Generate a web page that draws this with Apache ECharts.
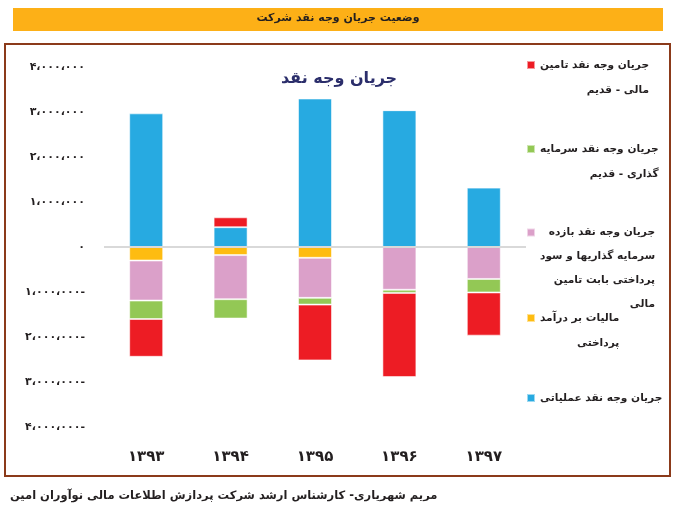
<!DOCTYPE html>
<html>
<head>
<meta charset="utf-8">
<title>جریان وجه نقد</title>
<script src="https://cdn.jsdelivr.net/npm/echarts@6/dist/echarts.min.js"></script>
<style>
  html, body { margin: 0; padding: 0; background: #fff; }
  #main { width: 675px; height: 509px; }
</style>
</head>
<body>
<div id="main"></div>
<script>
// داده‌ها
var years = ['۱۳۹۳', '۱۳۹۴', '۱۳۹۵', '۱۳۹۶', '۱۳۹۷'];
var operating = [2970000, 440000, 3300000, 3040000, 1320000];      // جریان وجه نقد عملیاتی
var tax = [-300000, -180000, -240000, 0, 0];                         // مالیات بر درآمد پرداختی
var dividends = [-890000, -980000, -890000, -950000, -710000];       // بازده سرمایه گذاریها و سود پرداختی
var investing = [-410000, -430000, -150000, -70000, -300000];        // سرمایه گذاری - قدیم
var financing = [-840000, 220000, -1240000, -1870000, -960000];      // تامین مالی - قدیم
var yTicks = [-4000000, -3000000, -2000000, -1000000, 0, 1000000, 2000000, 3000000, 4000000];
var yTickLabels = ['۴،۰۰۰،۰۰۰-', '۳،۰۰۰،۰۰۰-', '۲،۰۰۰،۰۰۰-', '۱،۰۰۰،۰۰۰-', '۰',
                   '۱،۰۰۰،۰۰۰', '۲،۰۰۰،۰۰۰', '۳،۰۰۰،۰۰۰', '۴،۰۰۰،۰۰۰'];

var FONT = 'DejaVu Sans';
var TXT = '#231f20';

// نام سری‌ها و سطرهای راهنما
var names = {
    operating: 'جریان وجه نقد عملیاتی',
    tax: 'مالیات بر درآمد پرداختی',
    dividends: 'جریان وجه نقد بازده سرمایه گذاریها و سود پرداختی بابت تامین مالی',
    investing: 'جریان وجه نقد سرمایه گذاری - قدیم',
    financing: 'جریان وجه نقد تامین مالی - قدیم'
};
var legendLines = {};
legendLines[names.financing] = ['جریان وجه نقد تامین', 'مالی - قدیم'];
legendLines[names.investing] = ['جریان وجه نقد سرمایه', 'گذاری - قدیم'];
legendLines[names.dividends] = ['جریان وجه نقد بازده', 'سرمایه گذاریها و سود', 'پرداختی بابت تامین', 'مالی'];
legendLines[names.tax] = ['مالیات بر درآمد', 'پرداختی'];
legendLines[names.operating] = ['جریان وجه نقد عملیاتی'];

var colors = {
    operating: '#27aae1',
    tax: '#febc11',
    dividends: '#dba0c9',
    investing: '#93c855',
    financing: '#ed1c24'
};

// راهنما: یک legend برای هر قلم، تا فاصله‌ها ثابت باشند
function makeLegend(name, firstLineY, lh) {
    var lines = legendLines[name];
    var n = lines.length;
    return {
        data: [name],
        orient: 'vertical',
        left: 526,
        top: firstLineY - (2 * n - 1) * lh / 2,
        padding: 0,
        align: 'left',
        icon: 'rect',
        itemWidth: 8,
        itemHeight: 8,
        selectedMode: false,
        formatter: function (nm) {
            var ls = legendLines[nm];
            var out = [];
            for (var i = 0; i < ls.length - 1; i++) out.push('{a| }');
            for (var j = 0; j < ls.length; j++) out.push('{a|' + ls[j] + '}');
            return out.join('\n');
        },
        textStyle: {
            fontFamily: FONT,
            rich: {
                a: {
                    align: 'right',
                    lineHeight: lh,
                    fontSize: 10.6,
                    fontWeight: 'bold',
                    fontFamily: FONT,
                    color: TXT
                }
            }
        }
    };
}

function bar(key, data) {
    return {
        name: names[key],
        type: 'bar',
        stack: 'cash',
        barWidth: 34,
        data: data,
        itemStyle: {
            color: colors[key],
            borderColor: 'rgba(255,255,255,0.55)',
            borderWidth: 1
        }
    };
}

var myChart = echarts.init(document.getElementById('main'));

var seriesOperating = bar('operating', operating);
seriesOperating.markLine = {
    silent: true,
    symbol: 'none',
    label: { show: false },
    lineStyle: { color: '#d9d9d9', width: 2, type: 'solid' },
    data: [{ yAxis: 0 }]
};

var option = {
    animation: false,
    backgroundColor: '#ffffff',
    title: [
        {
            text: 'وضعیت جریان وجه نقد شرکت',
            left: 338,
            top: 13,
            textAlign: 'center',
            padding: 0,
            textStyle: { fontFamily: FONT, fontSize: 11, fontWeight: 'bold', color: TXT }
        },
        {
            text: 'جریان وجه نقد',
            left: 339,
            top: 71,
            textAlign: 'center',
            padding: 0,
            textStyle: { fontFamily: FONT, fontSize: 16, fontWeight: 'bold', color: '#2b2e6b' }
        },
        {
            text: 'مریم شهریاری- کارشناس ارشد شرکت پردازش اطلاعات مالی نوآوران امین',
            left: 10,
            top: 490,
            padding: 0,
            textStyle: { fontFamily: FONT, fontSize: 11.5, fontWeight: 'bold', color: TXT }
        }
    ],
    graphic: [
        {
            type: 'rect',
            z: -10,
            shape: { x: 13, y: 8, width: 650, height: 23 },
            style: { fill: '#fdb017' }
        },
        {
            type: 'rect',
            z: -10,
            shape: { x: 5, y: 44, width: 665, height: 432 },
            style: { fill: 'none', stroke: '#8b3a1a', lineWidth: 2 }
        }
    ],
    legend: [
        makeLegend(names.financing, 72, 25),
        makeLegend(names.investing, 156, 25),
        makeLegend(names.dividends, 239, 24),
        makeLegend(names.tax, 325, 25),
        makeLegend(names.operating, 405, 25)
    ],
    grid: {
        left: 104,
        right: 149,
        top: 67,
        bottom: 82
    },
    xAxis: {
        type: 'category',
        data: years,
        axisLine: { show: false, onZero: false },
        axisTick: { show: false },
        axisLabel: {
            margin: 23,
            fontFamily: FONT,
            fontSize: 15,
            fontWeight: 'bold',
            color: TXT
        }
    },
    yAxis: {
        type: 'value',
        min: yTicks[0],
        max: yTicks[yTicks.length - 1],
        interval: 1000000,
        splitLine: { show: false },
        axisLine: { show: false },
        axisTick: { show: false },
        axisLabel: {
            margin: 19,
            fontFamily: FONT,
            fontSize: 11,
            fontWeight: 'bold',
            color: TXT,
            formatter: function (v) {
                var i = yTicks.indexOf(v);
                return i >= 0 ? yTickLabels[i] : '';
            }
        }
    },
    series: [
        seriesOperating,
        bar('tax', tax),
        bar('dividends', dividends),
        bar('investing', investing),
        bar('financing', financing)
    ]
};

myChart.setOption(option);
</script>
</body>
</html>
